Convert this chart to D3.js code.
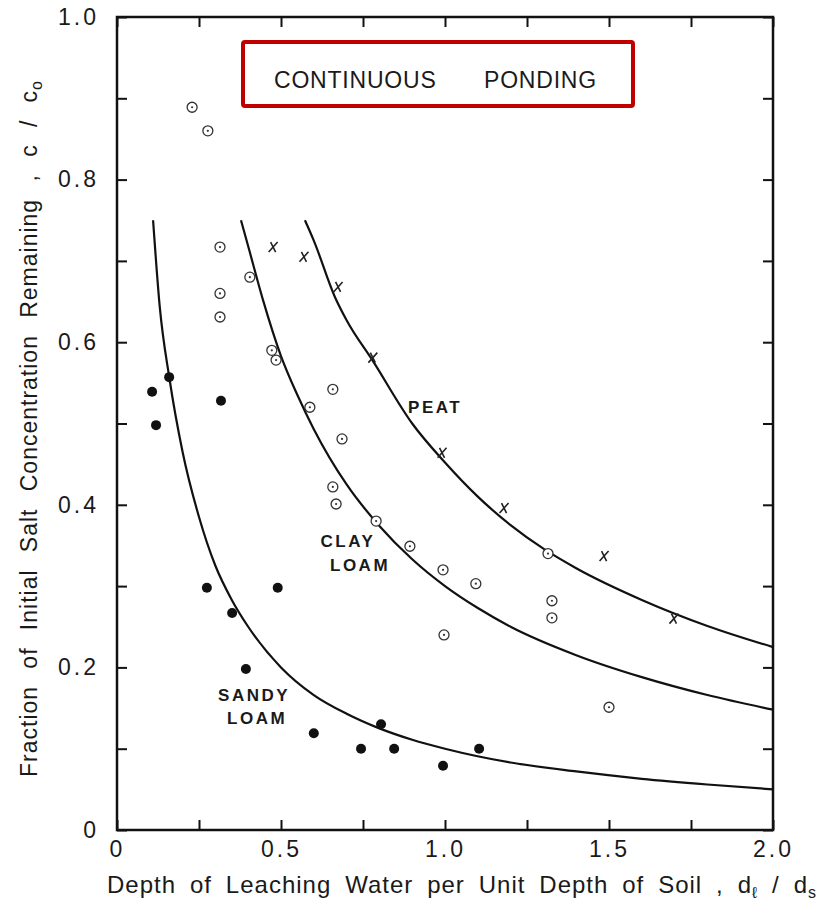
<!DOCTYPE html>
<html>
<head>
<meta charset="utf-8">
<script src="https://cdn.jsdelivr.net/npm/d3@7/dist/d3.min.js"></script>
<style>
  body { margin: 0; background: #fff; }
  svg text { font-family: "Liberation Sans", Arial, sans-serif; fill: #1a1a1a; }
</style>
</head>
<body>
<div id="chart-area"></div>
<script>
// values: [depth ratio, c/c0]
var sandyLoamPts = [
    [0.107, 0.539], [0.119, 0.498], [0.159, 0.557], [0.317, 0.528],
    [0.274, 0.298], [0.490, 0.298], [0.351, 0.267], [0.393, 0.198],
    [0.600, 0.119], [0.744, 0.100], [0.805, 0.130], [0.845, 0.100],
    [0.994, 0.079], [1.104, 0.100]
];
var clayLoamPts = [
    [0.229, 0.889], [0.277, 0.860], [0.314, 0.717], [0.314, 0.660],
    [0.314, 0.631], [0.405, 0.680], [0.472, 0.590], [0.485, 0.578],
    [0.588, 0.520], [0.658, 0.542], [0.686, 0.481], [0.658, 0.422],
    [0.668, 0.401], [0.790, 0.380], [0.893, 0.349], [0.994, 0.320],
    [1.094, 0.303], [1.314, 0.340], [1.326, 0.282], [1.326, 0.261],
    [0.997, 0.240], [1.500, 0.151]
];
var peatPts = [
    [0.476, 0.717], [0.570, 0.705], [0.674, 0.668], [0.780, 0.581],
    [0.991, 0.464], [1.180, 0.396], [1.485, 0.337], [1.698, 0.260]
];

// fitted curves
var sandyCurve = [
    [0.11, 0.750], [0.13, 0.645], [0.16, 0.555], [0.20, 0.465], [0.25, 0.385],
    [0.30, 0.325], [0.35, 0.283], [0.40, 0.250], [0.50, 0.200], [0.60, 0.166],
    [0.70, 0.143], [0.80, 0.125], [0.90, 0.111], [1.00, 0.100], [1.20, 0.083],
    [1.40, 0.072], [1.60, 0.063], [1.80, 0.056], [2.00, 0.050]
];
var clayCurve = [
    [0.378, 0.750], [0.40, 0.718], [0.445, 0.652], [0.50, 0.583], [0.55, 0.535],
    [0.60, 0.493], [0.70, 0.425], [0.80, 0.374], [0.90, 0.333], [1.00, 0.300],
    [1.10, 0.273], [1.20, 0.250], [1.40, 0.215], [1.60, 0.188], [1.80, 0.166],
    [2.00, 0.148]
];
var peatCurve = [
    [0.573, 0.750], [0.60, 0.725], [0.665, 0.655], [0.70, 0.627], [0.78, 0.577],
    [0.90, 0.500], [1.00, 0.452], [1.10, 0.410], [1.20, 0.375], [1.30, 0.346],
    [1.40, 0.322], [1.60, 0.283], [1.80, 0.251], [2.00, 0.225]
];

var xTicks = [0, 0.25, 0.5, 0.75, 1, 1.25, 1.5, 1.75, 2];
var xTickLabels = ["0", "", "0.5", "", "1.0", "", "1.5", "", "2.0"];
var yTicks = [0, 0.1, 0.2, 0.3, 0.4, 0.5, 0.6, 0.7, 0.8, 0.9, 1];
var yTickLabels = ["0", "", "0.2", "", "0.4", "", "0.6", "", "0.8", "", "1.0"];

// curve labels: [text, x, y (baseline)]
var curveLabels = [
    ["PEAT", 0.970, 0.513],
    ["CLAY", 0.704, 0.348],
    ["LOAM", 0.741, 0.318],
    ["SANDY", 0.418, 0.159],
    ["LOAM", 0.427, 0.130]
];

var W = 823, H = 909;
var margin = { left: 117, right: 50, top: 17, bottom: 79 };
var width = W - margin.left - margin.right,
    height = H - margin.top - margin.bottom;

var svg = d3.select("#chart-area")
    .append("svg")
        .attr("width", W)
        .attr("height", H);

var g = svg.append("g")
    .attr("transform", "translate(" + margin.left + "," + margin.top + ")");

var x = d3.scaleLinear().domain([0, 2]).range([0, width]);
var y = d3.scaleLinear().domain([0, 1]).range([height, 0]);

function axisStyle(sel){
    sel.select(".domain").remove();
    sel.selectAll(".tick line").attr("stroke", "#111").attr("stroke-width", 2);
    sel.selectAll(".tick text")
        .attr("font-size", 23)
        .attr("letter-spacing", 3)
        .attr("fill", "#1a1a1a");
}

g.append("g")
    .attr("transform", "translate(0," + height + ")")
    .call(d3.axisBottom(x).tickValues(xTicks)
        .tickFormat(function(d, i){ return xTickLabels[i]; })
        .tickSizeInner(-10).tickSizeOuter(0).tickPadding(11))
    .call(axisStyle);

g.append("g")
    .call(d3.axisLeft(y).tickValues(yTicks)
        .tickFormat(function(d, i){ return yTickLabels[i]; })
        .tickSizeInner(-10).tickSizeOuter(0).tickPadding(18))
    .call(axisStyle);

g.append("g")
    .call(d3.axisTop(x).tickValues(xTicks).tickFormat("")
        .tickSizeInner(-10).tickSizeOuter(0))
    .call(axisStyle);

g.append("g")
    .attr("transform", "translate(" + width + ",0)")
    .call(d3.axisRight(y).tickValues(yTicks).tickFormat("")
        .tickSizeInner(-10).tickSizeOuter(0))
    .call(axisStyle);

g.append("rect")
    .attr("width", width)
    .attr("height", height)
    .attr("fill", "none")
    .attr("stroke", "#111")
    .attr("stroke-width", 2.5);

// fitted curves
var line = d3.line()
    .x(function(d){ return x(d[0]); })
    .y(function(d){ return y(d[1]); })
    .curve(d3.curveMonotoneX);

[sandyCurve, clayCurve, peatCurve].forEach(function(c){
    g.append("path")
        .attr("d", line(c))
        .attr("fill", "none")
        .attr("stroke", "#111")
        .attr("stroke-width", 2.2);
});

// sandy loam: solid dots
g.selectAll(".sandy")
    .data(sandyLoamPts)
    .enter().append("circle")
        .attr("class", "sandy")
        .attr("cx", function(d){ return x(d[0]); })
        .attr("cy", function(d){ return y(d[1]); })
        .attr("r", 5)
        .attr("fill", "#111");

// clay loam: circle with centre dot
var clay = g.selectAll(".clay")
    .data(clayLoamPts)
    .enter().append("g")
        .attr("class", "clay")
        .attr("transform", function(d){ return "translate(" + x(d[0]) + "," + y(d[1]) + ")"; });
clay.append("circle")
    .attr("r", 5)
    .attr("fill", "#fff")
    .attr("stroke", "#333")
    .attr("stroke-width", 1.3);
clay.append("circle")
    .attr("r", 1.1)
    .attr("fill", "#333");

// peat: italic x marks
g.selectAll(".peat")
    .data(peatPts)
    .enter().append("path")
        .attr("class", "peat")
        .attr("transform", function(d){ return "translate(" + x(d[0]) + "," + y(d[1]) + ")"; })
        .attr("d", "M-4.5,5 L4.5,-5 M-2.5,-5 Q0,0 2.5,5")
        .attr("fill", "none")
        .attr("stroke", "#222")
        .attr("stroke-width", 1.6);

g.selectAll(".curve-label")
    .data(curveLabels)
    .enter().append("text")
        .attr("class", "curve-label")
        .attr("x", function(d){ return x(d[1]); })
        .attr("y", function(d){ return y(d[2]); })
        .attr("text-anchor", "middle")
        .attr("font-size", 17)
        .attr("font-weight", "bold")
        .attr("letter-spacing", 2.5)
        .text(function(d){ return d[0]; });

// title box
svg.append("rect")
    .attr("x", 243).attr("y", 42)
    .attr("width", 390).attr("height", 64)
    .attr("rx", 2)
    .attr("fill", "#fff")
    .attr("stroke", "#c00000")
    .attr("stroke-width", 4);
svg.append("text")
    .attr("x", 274).attr("y", 88)
    .attr("font-size", 23)
    .attr("letter-spacing", 0.8)
    .text("CONTINUOUS");
svg.append("text")
    .attr("x", 484).attr("y", 88)
    .attr("font-size", 23)
    .attr("letter-spacing", 0.8)
    .text("PONDING");

// stretch word gaps so a title spans the target length
function fitWords(t, target){
    var n = (t.text().match(/ /g) || []).length;
    var w0 = t.node().getComputedTextLength();
    if (n > 0) t.attr("word-spacing", (target - w0) / n);
}

var xt = svg.append("text")
    .attr("x", 107).attr("y", 893)
    .attr("font-size", 24)
    .attr("letter-spacing", 1);
xt.append("tspan").text("Depth of Leaching Water per Unit Depth of Soil , d");
xt.append("tspan").attr("font-size", 16).attr("dy", 5).text("ℓ");
xt.append("tspan").attr("dy", -5).text(" / d");
xt.append("tspan").attr("font-size", 16).attr("dy", 5).text("s");
fitWords(xt, 710);

var yt = svg.append("text")
    .attr("transform", "translate(37,777) rotate(-90)")
    .attr("font-size", 23)
    .attr("letter-spacing", 1);
yt.append("tspan").text("Fraction of Initial Salt Concentration Remaining , c / c");
yt.append("tspan").attr("font-size", 16).attr("dy", 5).text("o");
fitWords(yt, 697);
</script>
</body>
</html>
